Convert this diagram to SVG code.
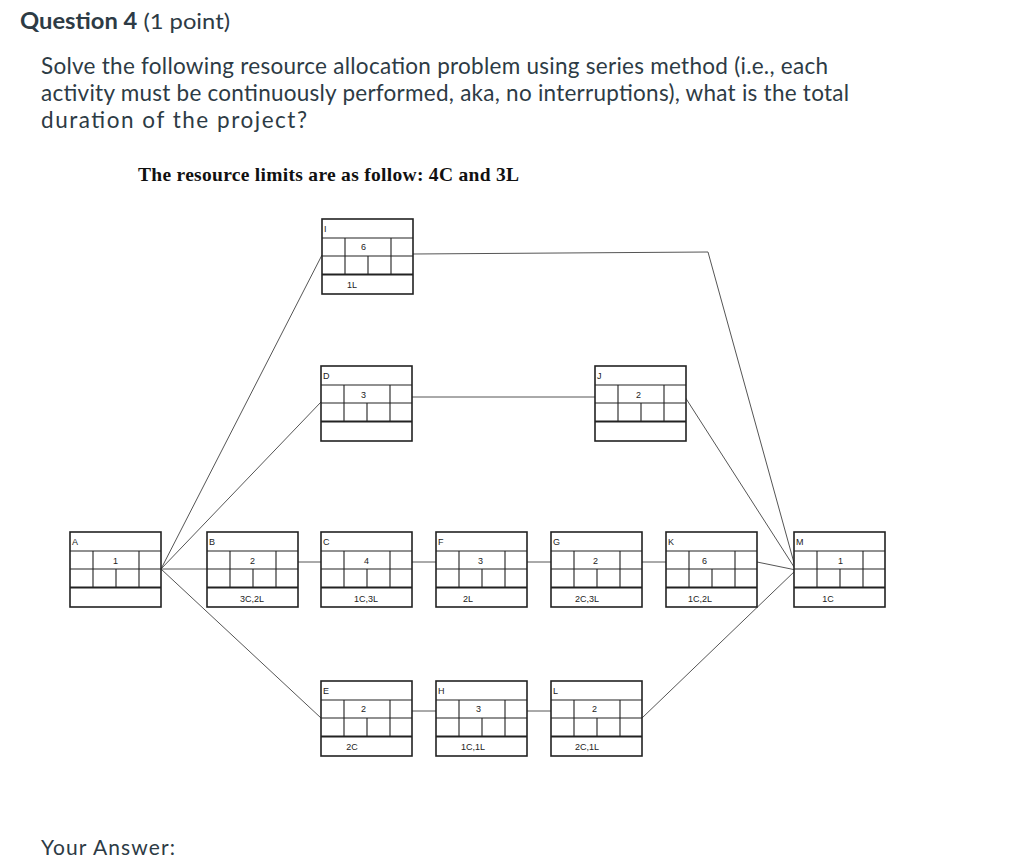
<svg xmlns="http://www.w3.org/2000/svg" width="1024" height="868" viewBox="0 0 1024 868">
<style>
.h{font-family:Lato,"Liberation Sans",sans-serif;fill:#2d3b45}
.b{fill:#fff;stroke:#222;stroke-width:1.6}
.g{stroke:#222;stroke-width:1.1;fill:none}
.t{font-family:"Liberation Sans",sans-serif;font-size:9px;fill:#222}
.c{stroke:#555;stroke-width:1;fill:none}
</style>
<defs>
<g id="n">
<rect class="b" x="0" y="0" width="91" height="75"/>
<path class="g" d="M0 19H91M0 37H91M23 19V55M69 19V55M46 37V55"/>
<path d="M0 55.5H91" stroke="#222" stroke-width="2"/>
</g>
</defs>
<rect width="1024" height="868" fill="#fff"/>
<text x="20" y="29" class="h" font-size="22" textLength="210" lengthAdjust="spacingAndGlyphs"><tspan font-weight="bold">Question 4</tspan> (1 point)</text>
<text class="h" font-size="22.5"><tspan x="41" y="74" textLength="787">Solve the following resource allocation problem using series method (i.e., each</tspan><tspan x="41" y="101" textLength="808">activity must be continuously performed, aka, no interruptions), what is the total</tspan><tspan x="41" y="128" textLength="266">duration of the project?</tspan></text>
<text x="138" y="181" font-family="Liberation Serif,serif" font-weight="bold" font-size="19.5" fill="#111" textLength="381">The resource limits are as follow: 4C and 3L</text>
<text x="41" y="855" class="h" font-size="21" textLength="134">Your Answer:</text>
<g id="connectors" class="c">
<path d="M161 569L322 255M161 569L321 402M161 569L207 569M161 569L321 718"/>
<path d="M298 562H321M412 562H436M527 562H551M642 562H666M757 562L796 570"/>
<path d="M412 711H436M527 711H551"/>
<path d="M413 254L708 252L796 570M412 397H595M685 397L796 570M642 718L796 570"/>
</g>
<g id="A"><use href="#n" x="70" y="532"/><text class="t" x="72" y="545">A</text><text class="t" x="113" y="564">1</text></g>
<g id="B"><use href="#n" x="207" y="532"/><text class="t" x="209" y="545">B</text><text class="t" x="250" y="564">2</text><text class="t" x="252" y="602" text-anchor="middle">3C,2L</text></g>
<g id="C"><use href="#n" x="321" y="532"/><text class="t" x="323" y="545">C</text><text class="t" x="364" y="564">4</text><text class="t" x="366" y="602" text-anchor="middle">1C,3L</text></g>
<g id="F"><use href="#n" x="436" y="532"/><text class="t" x="438" y="545">F</text><text class="t" x="478" y="564">3</text><text class="t" x="468" y="602" text-anchor="middle">2L</text></g>
<g id="G"><use href="#n" x="551" y="532"/><text class="t" x="553" y="545">G</text><text class="t" x="593" y="564">2</text><text class="t" x="587" y="602" text-anchor="middle">2C,3L</text></g>
<g id="K"><use href="#n" x="666" y="532"/><text class="t" x="668" y="545">K</text><text class="t" x="702" y="564">6</text><text class="t" x="700" y="602" text-anchor="middle">1C,2L</text></g>
<g id="M"><use href="#n" x="794" y="532"/><text class="t" x="796" y="545">M</text><text class="t" x="838" y="564">1</text><text class="t" x="828" y="602" text-anchor="middle">1C</text></g>
<g id="I"><use href="#n" x="322" y="219"/><text class="t" x="324" y="232">I</text><text class="t" x="361" y="250">6</text><text class="t" x="352" y="288" text-anchor="middle">1L</text></g>
<g id="D"><use href="#n" x="321" y="366"/><text class="t" x="323" y="379">D</text><text class="t" x="361" y="398">3</text></g>
<g id="J"><use href="#n" x="595" y="366"/><text class="t" x="597" y="379">J</text><text class="t" x="636" y="398">2</text></g>
<g id="E"><use href="#n" x="321" y="681"/><text class="t" x="323" y="694">E</text><text class="t" x="361" y="712">2</text><text class="t" x="352" y="750" text-anchor="middle">2C</text></g>
<g id="H"><use href="#n" x="436" y="681"/><text class="t" x="438" y="694">H</text><text class="t" x="476" y="712">3</text><text class="t" x="473" y="750" text-anchor="middle">1C,1L</text></g>
<g id="L"><use href="#n" x="551" y="681"/><text class="t" x="553" y="694">L</text><text class="t" x="592" y="712">2</text><text class="t" x="587" y="750" text-anchor="middle">2C,1L</text></g>
</svg>
